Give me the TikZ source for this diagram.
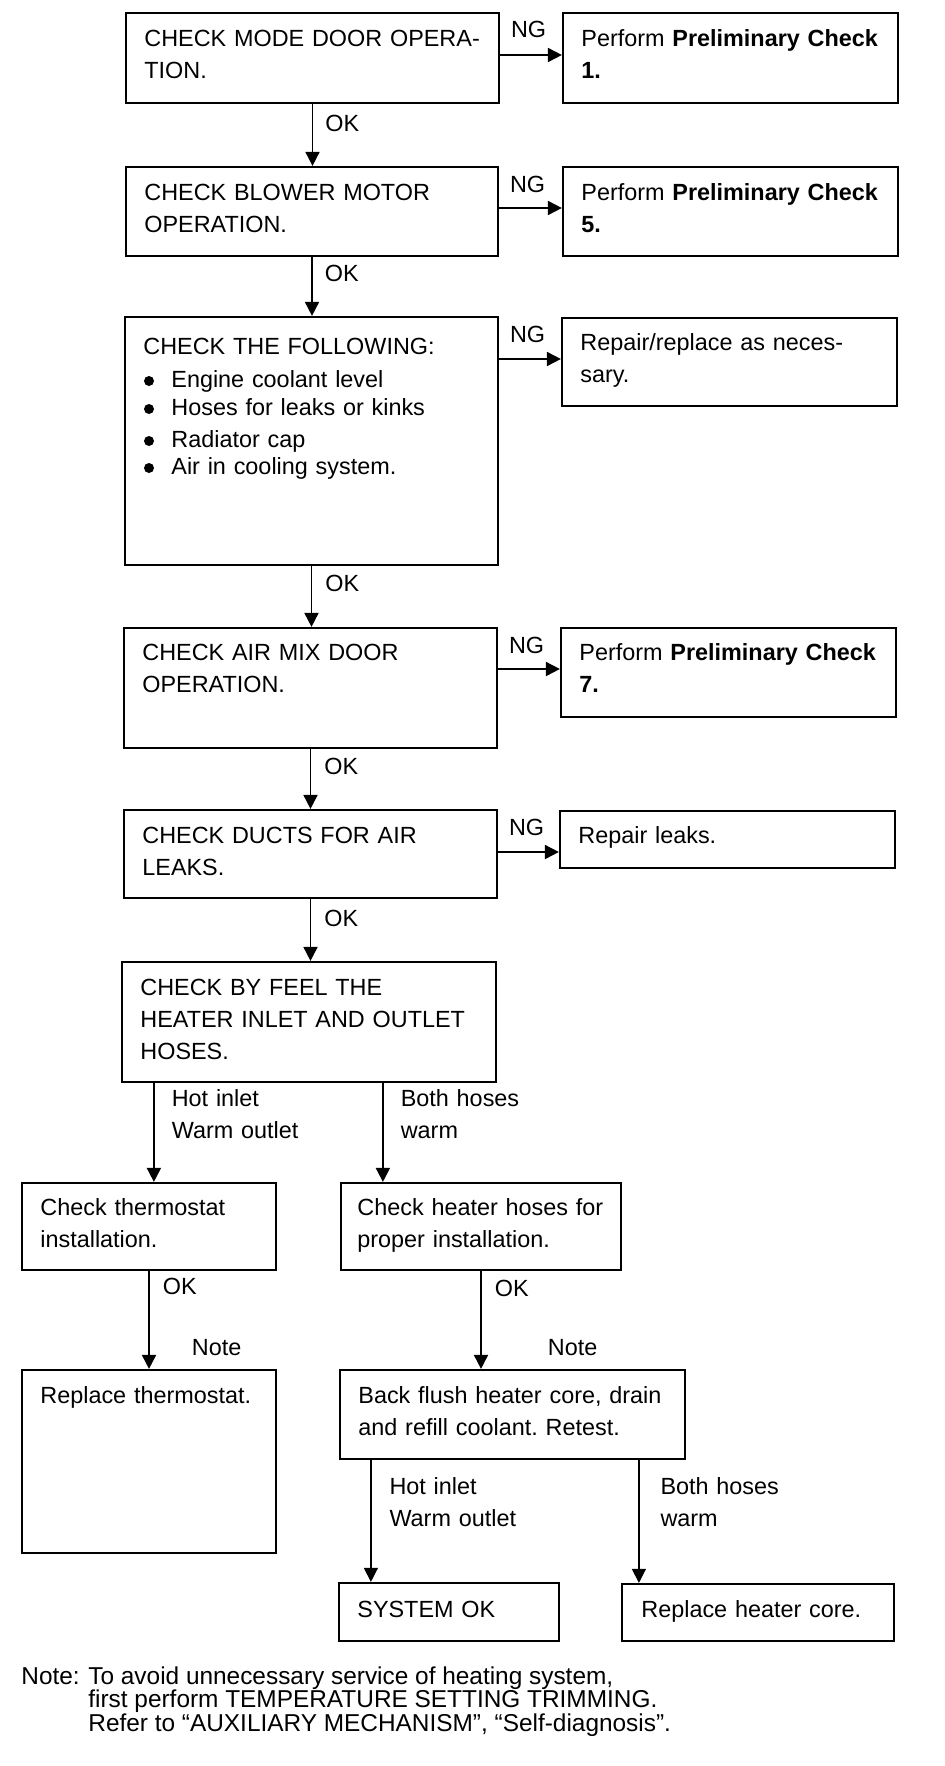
\documentclass[tikz,border=0pt]{standalone}
\usepackage{fontspec}
\setmainfont{Liberation Sans}
\usetikzlibrary{arrows.meta,fit}
\frenchspacing
\begin{document}
\begin{tikzpicture}[x=0.5pt,y=-0.5pt,
  box/.style={draw, line width=1.1pt, inner sep=0pt, rectangle},
  txt/.style={anchor=base west, inner sep=0pt, text width=175pt, align=left,
    font=\fontsize{11.7pt}{16pt}\selectfont},
  lbl/.style={anchor=base west, inner sep=0pt, text width=80pt, align=left,
    font=\fontsize{11.7pt}{16pt}\selectfont},
  arr/.style={line width=0.9pt, -{Triangle[length=7pt,width=7pt]}},
  arrthin/.style={line width=0.6pt, -{Triangle[length=7pt,width=7pt]}},
  bul/.style={fill=black}
]
\useasboundingbox (0,0) rectangle (944,1766);

% ---------- boxes ----------
\node[box, fit={(126,13) (499,103)}] (A) {};
\node[txt] (tA) at (144,47) {CHECK MODE DOOR OPERA-\\TION.};
\node[box, fit={(563,13) (898,103)}] (P1) {};
\node[txt] (tP1) at (581,47) {Perform \textbf{Preliminary Check}\\\textbf{1.}};

\node[box, fit={(126,167) (498,256)}] (B) {};
\node[txt] (tB) at (144,200) {CHECK BLOWER MOTOR\\OPERATION.};
\node[box, fit={(563,167) (898,256)}] (P5) {};
\node[txt] (tP5) at (581,200) {Perform \textbf{Preliminary Check}\\\textbf{5.}};

\node[box, fit={(125,317) (498,565)}] (C) {};
\node[txt] (tC) at (143,354) {CHECK THE FOLLOWING:\\[0.5pt]
\hspace*{14pt}Engine coolant level\\[-2pt]
\hspace*{14pt}Hoses for leaks or kinks\\
\hspace*{14pt}Radiator cap\\[-2.5pt]
\hspace*{14pt}Air in cooling system.};
\fill[bul] (149,381) circle[radius=2.5pt];
\fill[bul] (149,409) circle[radius=2.5pt];
\fill[bul] (149,441) circle[radius=2.5pt];
\fill[bul] (149,468) circle[radius=2.5pt];
\node[box, fit={(562,318) (897,406)}] (R1) {};
\node[txt] (tR1) at (580,350) {Repair/replace as neces-\\sary.};

\node[box, fit={(124,628) (497,748)}] (D) {};
\node[txt] (tD) at (142,660) {CHECK AIR MIX DOOR\\OPERATION.};
\node[box, fit={(561,628) (896,717)}] (P7) {};
\node[txt] (tP7) at (579,660) {Perform \textbf{Preliminary Check}\\\textbf{7.}};

\node[box, fit={(124,810) (497,898)}] (E) {};
\node[txt] (tE) at (142,843) {CHECK DUCTS FOR AIR\\LEAKS.};
\node[box, fit={(560,811) (895,868)}] (RL) {};
\node[txt] (tRL) at (578,843) {Repair leaks.};

\node[box, fit={(122,962) (496,1082)}] (F) {};
\node[txt] (tF) at (140,995) {CHECK BY FEEL THE\\HEATER INLET AND OUTLET\\HOSES.};

\node[box, fit={(22,1183) (276,1270)}] (G) {};
\node[txt] (tG) at (40,1215) {Check thermostat\\installation.};
\node[box, fit={(341,1183) (621,1270)}] (H) {};
\node[txt] (tH) at (357,1215) {Check heater hoses for\\proper installation.};

\node[box, fit={(22,1370) (276,1553)}] (I) {};
\node[txt] (tI) at (40,1403) {Replace thermostat.};
\node[box, fit={(340,1370) (685,1459)}] (J) {};
\node[txt] (tJ) at (358,1403) {Back flush heater core, drain\\and refill coolant. Retest.};

\node[box, fit={(339,1583) (559,1641)}] (S) {};
\node[txt] (tS) at (357,1617) {SYSTEM OK};
\node[box, fit={(622,1584) (894,1641)}] (RC) {};
\node[txt] (tRC) at (641,1617) {Replace heater core.};

% ---------- OK connectors ----------
\draw[arr] (A.south) -- node[lbl,pos=0,xshift=6pt,yshift=-13.5pt]{OK} (A.south |- B.north);
\draw[arr] (B.south) -- node[lbl,pos=0,xshift=6pt,yshift=-12pt]{OK} (B.south |- C.north);
\draw[arr] (C.south) -- node[lbl,pos=0,xshift=6.5pt,yshift=-12.5pt]{OK} (C.south |- D.north);
\draw[arr] (D.south) -- node[lbl,pos=0,xshift=6.5pt,yshift=-12.5pt]{OK} (D.south |- E.north);
\draw[arr] (E.south) -- node[lbl,pos=0,xshift=6.5pt,yshift=-13.5pt]{OK} (E.south |- F.north);

% ---------- NG connectors ----------
\coordinate (nA) at ([yshift=1.5pt]A.east);
\coordinate (nB) at ([yshift=1.75pt]B.east);
\coordinate (nR) at ([yshift=1.5pt]R1.west);
\coordinate (nP) at ([yshift=1.75pt]P7.west);
\coordinate (nE) at ([yshift=1pt]E.east);
\draw[arr] (nA) -- node[lbl,pos=0,xshift=5pt,yshift=8.5pt]{NG} (nA -| P1.west);
\draw[arr] (nB) -- node[lbl,pos=0,xshift=5pt,yshift=8pt]{NG} (nB -| P5.west);
\draw[arr] (C.east |- nR) -- node[lbl,pos=0,xshift=5pt,yshift=8.5pt]{NG} (nR);
\draw[arr] (D.east |- nP) -- node[lbl,pos=0,xshift=5pt,yshift=8pt]{NG} (nP);
\draw[arr] (nE) -- node[lbl,pos=0,xshift=5pt,yshift=8.5pt]{NG} (nE -| RL.west);

% ---------- heater branches ----------
\coordinate (f1) at ([xshift=16.5pt]F.south west);
\coordinate (f2) at ([xshift=131pt]F.south west);
\draw[arr] (f1) -- node[lbl,pos=0,xshift=8.5pt,yshift=-11.5pt]{Hot inlet\\Warm outlet} (f1 |- G.north);
\draw[arr] (f2) -- node[lbl,pos=0,xshift=8.5pt,yshift=-11.5pt]{Both hoses\\warm} (f2 |- H.north);

\draw[arr] (G.south) -- node[lbl,pos=0,xshift=6.5pt,yshift=-11.5pt]{OK}
  node[lbl,pos=1,xshift=21pt,yshift=6.5pt]{Note} (G.south |- I.north);
\draw[arr] (H.south) -- node[lbl,pos=0,xshift=6.5pt,yshift=-12.5pt]{OK}
  node[lbl,pos=1,xshift=33pt,yshift=6.5pt]{Note} (H.south |- J.north);

\coordinate (j1) at ([xshift=16pt]J.south west);
\coordinate (j2) at ([xshift=150pt]J.south west);
\draw[arrthin] (j1) -- node[lbl,pos=0,xshift=9pt,yshift=-17pt]{Hot inlet\\Warm outlet} (j1 |- S.north);
\draw[arrthin] (j2) -- node[lbl,pos=0,xshift=10.5pt,yshift=-17pt]{Both hoses\\warm} (j2 |- RC.north);

% ---------- note ----------
\node[anchor=base west, inner sep=0pt, font=\fontsize{12.2pt}{11.8pt}\selectfont] (nl) at (21,1684) {Note:};
\node[anchor=base west, inner sep=0pt] (nt) at (88,1684)
 {\begin{minipage}[t]{420pt}\fontsize{12.2pt}{11.8pt}\selectfont\lineskiplimit=-20pt\raggedright
 To avoid unnecessary service of heating system,\\first perform TEMPERATURE SETTING TRIMMING.\\Refer to “AUXILIARY MECHANISM”, “Self-diagnosis”.\end{minipage}};
\end{tikzpicture}
\end{document}
